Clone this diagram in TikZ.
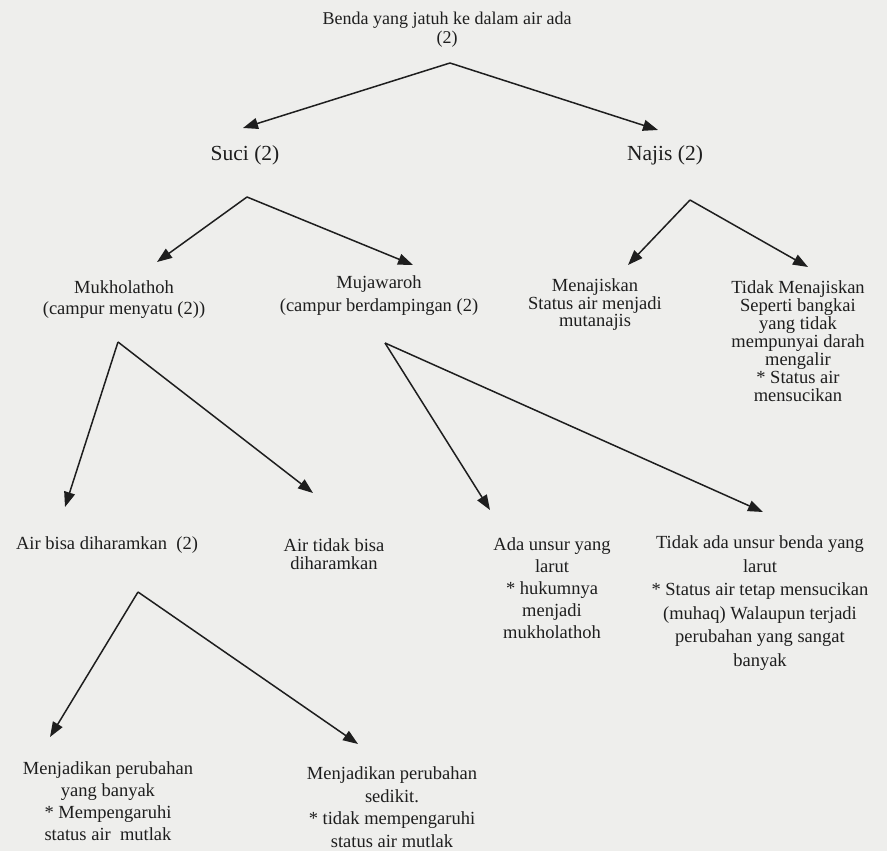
\documentclass[tikz,border=0pt]{standalone}
\usepackage{fontspec}
\setmainfont{Liberation Serif}
\usetikzlibrary{arrows.meta}
\definecolor{paper}{RGB}{238,238,236}
\definecolor{ink}{RGB}{30,30,30}
\tikzset{
  txt/.style={inner sep=0pt, align=center, text=ink, anchor=center},
  body/.style 2 args={txt, font=\fontsize{#1}{#2}\selectfont},
  arr/.style={draw=ink, line width=1.5pt, -{Triangle[length=15pt,width=11pt]}}
}
\begin{document}
\begin{tikzpicture}[x=1pt,y=-1pt]
\useasboundingbox (0,0) rectangle (887,851);
\fill[paper] (0,0) rectangle (887,851);

% nodes
\node[body={18}{19}] (title) at (447,30) {Benda yang jatuh ke dalam air ada\\(2)};
\node[body={21.5}{24}] (suci) at (245,155) {Suci (2)};
\node[body={21.5}{24}] (najis) at (665,155) {Najis (2)};
\node[body={18.5}{21}] (muk) at (124,300) {Mukholathoh\\(campur menyatu (2))};
\node[body={18.5}{23}] (muj) at (379,296) {Mujawaroh\\(campur berdampingan (2)};
\node[body={18.5}{17.5}] (menaj) at (595,305) {Menajiskan\\Status air menjadi\\mutanajis};
\node[body={18.5}{18}] (tmenaj) at (798,341) {Tidak Menajiskan\\Seperti bangkai\\yang tidak\\mempunyai darah\\mengalir\\* Status air\\mensucikan};
\node[body={18.5}{18}] (airbisa) at (107,545) {Air bisa diharamkan\ \ (2)};
\node[body={18.5}{18}] (airtidak) at (334,554) {Air tidak bisa\\diharamkan};
\node[body={18.5}{22}] (ada) at (552,588) {Ada unsur yang\\larut\\* hukumnya\\menjadi\\mukholathoh};
\node[body={18.5}{23.5}] (tidakada) at (760,603) {Tidak ada unsur benda yang\\larut\\* Status air tetap mensucikan\\(muhaq) Walaupun terjadi\\perubahan yang sangat\\banyak};
\node[body={18.5}{22}] (banyak) at (108,801) {Menjadikan perubahan\\yang banyak\\* Mempengaruhi\\status air\ \ mutlak};
\node[body={18.5}{22.5}] (sedikit) at (392,807) {Menjadikan perubahan\\sedikit.\\* tidak mempengaruhi\\status air mutlak};

% branching points
\coordinate (a0) at ([shift={(3,33)}]title.center);
\coordinate (aS) at ([shift={(2,42)}]suci.center);
\coordinate (aN) at ([shift={(25,45)}]najis.center);
\coordinate (aMuk) at ([shift={(-6,42)}]muk.center);
\coordinate (aMuj) at ([shift={(6,47)}]muj.center);
\coordinate (aBisa) at ([shift={(31,47)}]airbisa.center);

% connectors
\draw[arr] (a0) -- ([shift={(-2,-27)}]suci.center);
\draw[arr] (a0) -- ([shift={(-7,-25)}]najis.center);
\draw[arr] (aS) -- ([shift={(33,-38)}]muk.center);
\draw[arr] (aS) -- ([shift={(34,-31)}]muj.center);
\draw[arr] (aN) -- ([shift={(33,-40)}]menaj.center);
\draw[arr] (aN) -- ([shift={(10,-74)}]tmenaj.center);
\draw[arr] (aMuk) -- ([shift={(-42,-38)}]airbisa.center);
\draw[arr] (aMuk) -- ([shift={(-21,-61)}]airtidak.center);
\draw[arr] (aMuj) -- ([shift={(-62,-78)}]ada.center);
\draw[arr] (aMuj) -- ([shift={(3,-91)}]tidakada.center);
\draw[arr] (aBisa) -- ([shift={(-58,-64)}]banyak.center);
\draw[arr] (aBisa) -- ([shift={(-34,-63)}]sedikit.center);
\end{tikzpicture}
\end{document}
